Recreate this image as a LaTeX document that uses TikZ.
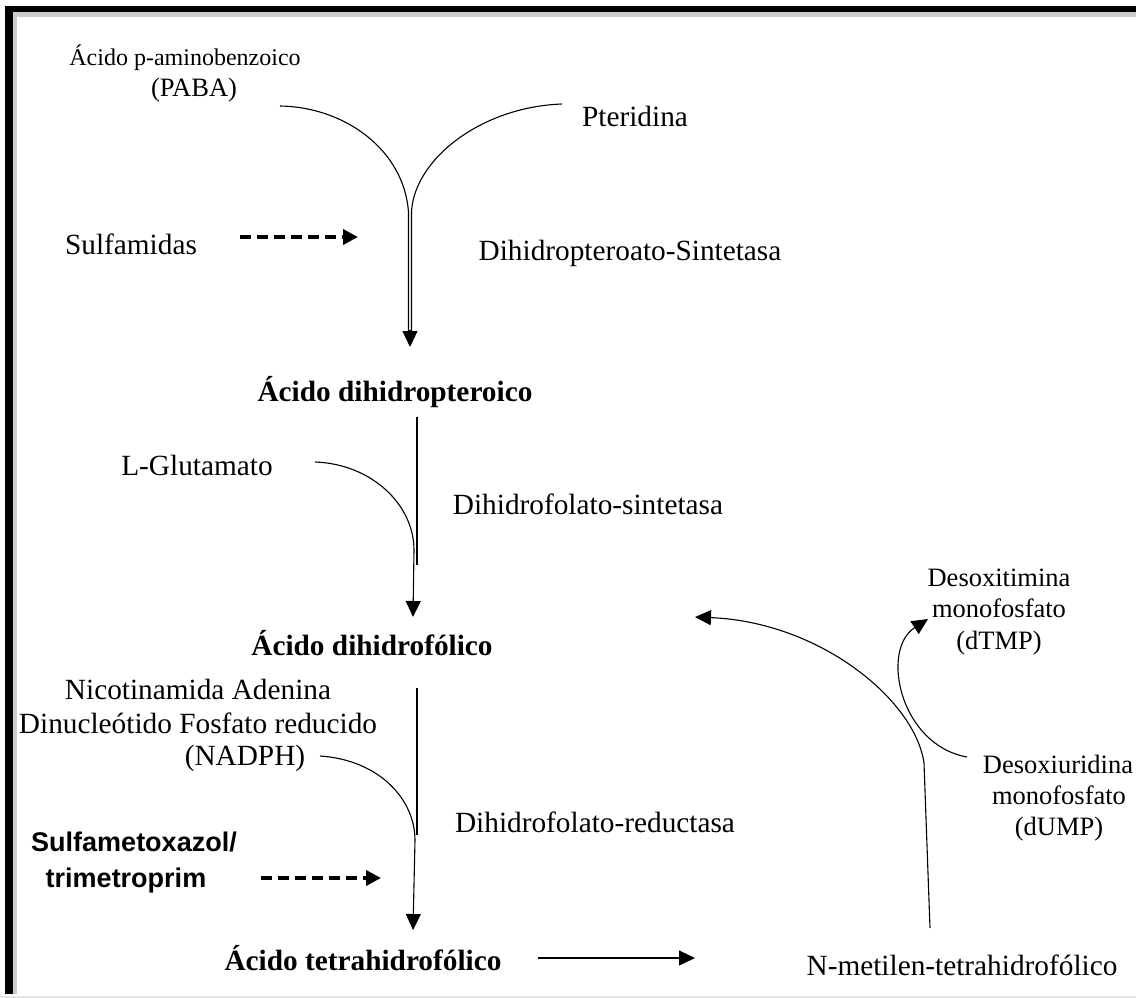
\documentclass[tikz,border=0pt]{standalone}
\usepackage{fontspec}
\setmainfont{Liberation Serif}
\newfontfamily\arialfont{Liberation Sans}
\usetikzlibrary{arrows.meta}
\begin{document}
\begin{tikzpicture}[x=1pt,y=-1pt,
  lbl/.style={inner sep=0pt, anchor=base, font=\fontsize{29.3}{34}\selectfont},
  blbl/.style={lbl, font=\fontsize{29.3}{34}\selectfont\bfseries},
  slbl/.style={lbl, font=\fontsize{26.5}{30}\selectfont},
  sanslbl/.style={lbl, font=\arialfont\fontsize{27}{30}\selectfont\bfseries},
  ln/.style={line width=1.1pt},
  arr/.style={ln, -{Triangle[length=16pt,width=15pt]}},
  darr/.style={line width=3.8pt, dash pattern=on 11pt off 6pt, -{Triangle[length=15pt,width=15pt]}},
]
\useasboundingbox (0,0) rectangle (1136,998);
% frame
\fill[gray!40] (13,12) rectangle (1136,17);
\fill[gray!40] (13,12) rectangle (17,994);
\fill[black] (5,6) rectangle (1136,12);
\fill[black] (5,6) rectangle (13,994);
\draw[gray!20, line width=1.5pt] (0,997) -- (1136,997);

% labels
\node[lbl, font=\fontsize{24}{28}\selectfont] (paba1) at (185,66) {Ácido p-aminobenzoico};
\node[slbl] (paba) at (194,96) {(PABA)};
\node[lbl] (pter) at (635,126) {Pteridina};
\node[lbl] (sulf) at (131,254) {Sulfamidas};
\node[lbl] (dps) at (630,260) {Dihidropteroato-Sintetasa};
\node[blbl] (adp) at (395,401) {Ácido dihidropteroico};
\node[lbl] (glu) at (197,475) {L-Glutamato};
\node[lbl] (dfs) at (588,514) {Dihidrofolato-sintetasa};
\node[blbl] (adf) at (372,655) {Ácido dihidrofólico};
\node[lbl] (nic1) at (198,699) {Nicotinamida Adenina};
\node[lbl] (nic2) at (198,733) {Dinucleótido Fosfato reducido};
\node[lbl] (nadph) at (245,765) {(NADPH)};
\node[lbl] (dfr) at (595,832) {Dihidrofolato-reductasa};
\node[sanslbl] (smx1) at (134,851) {Sulfametoxazol/};
\node[sanslbl] (smx2) at (126,887) {trimetroprim};
\node[blbl] (ath) at (363,970) {Ácido tetrahidrofólico};
\node[lbl] (nmet) at (962,975) {N-metilen-tetrahidrofólico};
\node[slbl] (dt1) at (999,586) {Desoxitimina};
\node[slbl] (dt2) at (999,617) {monofosfato};
\node[slbl] (dt3) at (999,649) {(dTMP)};
\node[slbl] (du1) at (1058,773) {Desoxiuridina};
\node[slbl] (du2) at (1059,804) {monofosfato};
\node[slbl] (du3) at (1059,835) {(dUMP)};

% connector end points
\coordinate (c1s) at (280,106);
\coordinate (c2s) at (562,104);
\coordinate (t1) at (410,347);
\coordinate (d1s) at (240,237);
\coordinate (d1e) at (358,237);
\coordinate (v2s) at (417,417);
\coordinate (v2e) at (417,565);
\coordinate (g1) at (315,462);
\coordinate (t2) at (413,617);
\coordinate (v3s) at (417,688);
\coordinate (v3e) at (417,835);
\coordinate (n1) at (320,756);
\coordinate (t3) at (413,930);
\coordinate (d2s) at (261,878);
\coordinate (d2e) at (381,878);
\coordinate (h1) at (538,958);
\coordinate (h2) at (695,958);
\coordinate (m1) at (930,928);
\coordinate (m2) at (924,763);
\coordinate (tm) at (695,617);
\coordinate (u1) at (967,757);
\coordinate (tu) at (928,619);

% first step
\draw[ln] (c1s) .. controls (345,107) and (404,150) .. (408.5,212) -- (408.5,333);
\draw[ln] (c2s) .. controls (480,107) and (414,160) .. (411.5,212) -- (411.5,333);
\draw[arr] (410,330) -- (t1);
\draw[darr] (d1s) -- (d1e);
% second step
\draw[ln] (v2s) -- (v2e);
\draw[arr] (g1) .. controls (372,464) and (414,505) .. (414,550) -- (t2);
% third step
\draw[ln] (v3s) -- (v3e);
\draw[arr] (n1) .. controls (380,760) and (415,800) .. (415,840) -- (t3);
\draw[darr] (d2s) -- (d2e);
% bottom
\draw[arr] (h1) -- (h2);
\draw[arr] (m1) -- (m2) .. controls (915,700) and (820,622) .. (tm);
\draw[arr] (u1) .. controls (900,745) and (880,650) .. (tu);
\end{tikzpicture}
\end{document}
